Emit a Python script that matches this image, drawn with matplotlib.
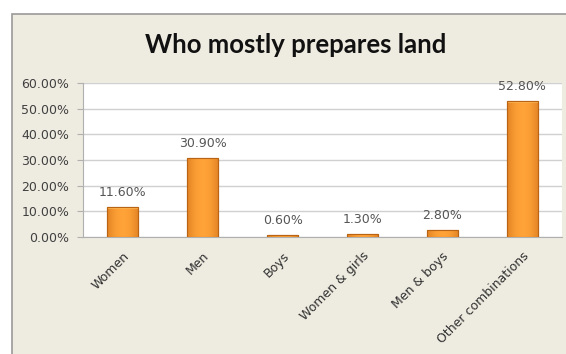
import matplotlib.pyplot as plt
import numpy as np
from matplotlib.patches import Rectangle
from matplotlib.ticker import FuncFormatter

plt.rcParams['font.family'] = ['DejaVu Sans']

categories = ['Women', 'Men', 'Boys', 'Women & girls', 'Men & boys', 'Other combinations']
values = [11.6, 30.9, 0.6, 1.3, 2.8, 52.8]
yticks = [0, 10, 20, 30, 40, 50, 60]

fig = plt.figure(figsize=(5.66, 3.54), dpi=100)
fig.patch.set_facecolor('white')

# beige chart frame, kept behind the axes
frame = Rectangle((12 / 566, -0.05), 1.0, (354 - 14) / 354 + 0.05,
                  transform=fig.transFigure, facecolor='#eeebe0',
                  edgecolor='#9a9a9a', linewidth=1.2, zorder=-5)
fig.patches.append(frame)

ax = fig.add_axes([83 / 566, (354 - 237) / 354, (562 - 83) / 566, (237 - 83) / 354])
ax.set_facecolor('white')

x = np.arange(len(categories))
bars = ax.bar(x, values, width=0.39, color='#f39021', edgecolor='#b86414',
              linewidth=0.8, zorder=3)

# horizontal shading on each bar
grad = np.linspace(0, 1, 64)
shade = 1 - 0.55 * (2 * grad - 1) ** 2
cols = np.array([[0.78, 0.40, 0.07], [1.0, 0.64, 0.22]])
img = cols[0] + (cols[1] - cols[0]) * shade[:, None]
img = img[None, :, :]
for b in bars:
    x0, w, h = b.get_x(), b.get_width(), b.get_height()
    im = ax.imshow(img, extent=[x0, x0 + w, 0, h], aspect='auto', zorder=3.5)
    im.set_clip_path(b)
    top = min(h, 1.0)
    ax.add_patch(Rectangle((x0, h - top * 0.6), w, top * 0.6, facecolor='#ffc060',
                           edgecolor='none', alpha=0.6, zorder=3.6))
    ax.add_patch(Rectangle((x0, 0), w, h, facecolor='none', edgecolor='#b86414',
                           linewidth=0.8, zorder=3.7))

for xi, v in zip(x, values):
    ax.annotate(f'{v:.2f}%', (xi, v), xytext=(0, 10.5), textcoords='offset points',
                ha='center', va='center', fontsize=9, color='#555555',
                clip_on=False, zorder=5)

ax.set_xlim(-0.5, len(categories) - 0.5)
ax.set_ylim(0, 60)
ax.set_yticks(yticks)
ax.yaxis.set_major_formatter(FuncFormatter(lambda v, p: f'{v:.2f}%'))
ax.yaxis.grid(True, color='#d0d0d0', linewidth=1.0, zorder=0)
ax.set_axisbelow(True)

for s in ['top', 'right']:
    ax.spines[s].set_visible(False)
ax.spines['left'].set_color('#b0b0b0')
ax.spines['bottom'].set_color('#b0b0b0')
ax.tick_params(axis='y', colors='#b0b0b0', labelcolor='#404040', labelsize=9,
               length=4, pad=6)
ax.tick_params(axis='x', length=0, labelcolor='#303030', labelsize=9, pad=9)

ax.set_xticks(x)
ax.set_xticklabels(categories, rotation=45, ha='right', rotation_mode='anchor')

fig.text(296 / 566, (354 - 45) / 354, 'Who mostly prepares land', ha='center',
         va='center', fontsize=18.5, fontweight='bold', color='#111111',
         family='Lato')

fig.savefig('out.png', dpi=100, facecolor=fig.get_facecolor())
